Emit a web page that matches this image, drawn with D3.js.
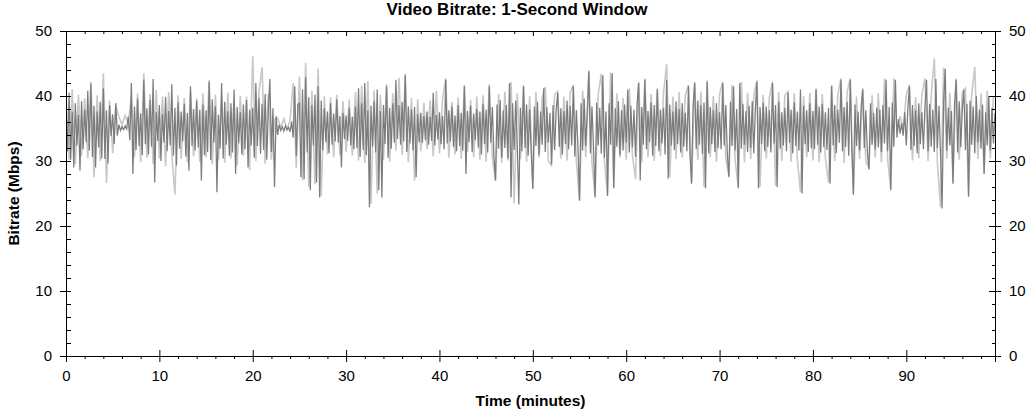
<!DOCTYPE html>
<html>
<head>
<meta charset="utf-8">
<script src="https://cdn.jsdelivr.net/npm/d3@7"></script>
<style>
  body { margin: 0; background: #fff; }
  svg { display: block; font-family: "Liberation Sans", Arial, sans-serif; }
</style>
</head>
<body>
<div id="grafico"></div>
<script>
// muestras de 10 s (serie oscura) y de 20 s (serie clara), en Mbps
const pasoOscuroSeg = 10, pasoClaroSeg = 20;

const bitrateOscuro = [
  38.2,31.5,40.5,30.2,37.6,29.0, 38.9,32.4,37.1,28.5,39.2,31.8, 37.9,32.9,40.8,31.6,41.9,30.6, 38.5,29.0,37.6,32.1,39.1,30.4, 41.2,30.3,37.8,29.6,38.6,33.8,
  37.2,32.6,38.9,33.9,35.6,34.7, 35.3,34.8,35.4,34.9,36.8,33.2, 42.0,28.0,38.4,31.7,39.6,32.3, 37.3,30.9,42.5,32.6,38.1,31.0, 39.4,32.2,42.6,26.7,37.5,33.1,
  38.6,30.0,37.2,32.8,39.9,31.5, 37.7,32.4,41.8,30.8,38.2,29.3, 39.0,31.9,37.6,33.0,38.8,30.7, 37.4,28.5,41.5,32.3,38.0,31.6, 39.3,32.1,37.9,27.0,38.7,30.9,
  37.8,31.4,42.2,30.1,39.5,32.8, 38.4,25.2,37.1,31.9,42.0,30.4, 39.1,32.5,37.7,30.8,38.9,31.3, 41.0,28.0,38.3,32.7,37.5,31.0, 38.7,31.8,39.4,29.0,37.9,32.4,
  38.2,30.5,42.0,32.3,39.7,31.1, 38.8,31.7,40.3,30.2,37.6,42.6, 31.4,38.1,26.0,36.9,34.0,35.6, 34.7,35.3,34.6,35.4,34.8,35.2, 34.5,36.1,33.6,41.5,30.8,38.7,
  38.9,27.5,41.0,27.2,42.9,31.3, 39.8,25.5,38.6,32.4,40.2,26.7, 41.5,24.4,39.3,31.6,38.1,32.9, 37.6,31.2,38.9,32.5,37.3,33.0, 39.5,32.8,36.9,29.0,37.4,33.4,
  37.0,33.1,38.2,32.4,36.8,31.8, 38.4,32.0,41.2,30.6,38.9,31.7, 42.0,30.9,37.8,22.9,38.5,32.2, 39.2,31.3,41.0,25.5,37.7,24.4, 38.6,32.6,41.5,30.5,38.2,31.9,
  38.9,32.8,42.5,33.4,38.6,32.5, 39.1,33.0,43.2,31.4,38.4,32.7, 37.9,31.6,38.3,27.5,37.2,32.9, 37.4,32.8,36.9,33.2,37.6,32.5, 36.8,33.1,40.5,32.4,37.1,33.3,
  37.5,32.6,36.9,31.8,42.5,32.7, 37.8,33.0,38.4,32.2,37.0,31.5, 38.6,32.3,37.4,31.6,41.5,28.0, 37.7,32.9,38.5,31.4,37.3,33.2, 38.0,32.1,37.6,31.0,38.8,32.6,
  37.9,31.3,41.5,32.8,38.3,30.6, 27.0,38.7,31.9,39.4,30.5,37.8, 32.0,38.6,30.4,42.0,24.4,38.9, 31.7,39.3,32.4,23.3,38.2,31.5, 41.5,32.0,38.7,30.8,37.9,31.2,
  25.7,38.4,32.3,39.1,30.9,37.6, 32.5,41.2,31.4,38.3,32.8,37.4, 29.5,38.6,31.7,37.9,40.5,32.2, 38.1,31.0,37.7,32.6,39.3,31.8, 38.5,32.4,41.5,30.7,37.8,32.1,
  23.9,38.9,31.6,39.6,32.3,37.5, 43.8,31.2,38.4,32.0,24.4,39.0, 32.4,38.2,31.1,43.2,30.5,37.6, 24.6,38.9,32.5,43.5,25.8,38.1, 32.2,39.2,30.9,37.8,31.6,38.7,
  32.8,41.0,31.3,38.5,32.1,37.9, 30.6,38.8,42.0,27.0,38.3,32.5, 42.5,31.8,37.7,32.9,39.0,30.8, 38.6,32.3,41.0,31.5,37.9,32.7, 38.2,31.0,42.5,27.3,38.7,32.4,
  37.6,31.7,39.2,32.6,38.0,31.3, 38.9,32.2,37.4,31.5,41.5,30.9, 26.5,38.5,42.0,31.8,39.3,32.5, 38.6,31.1,39.0,25.8,42.2,31.2, 38.3,32.6,37.8,31.4,38.9,32.0,
  37.5,31.8,42.0,32.4,38.6,31.0, 27.5,39.1,32.3,41.5,31.6,38.0, 25.8,42.0,31.9,38.8,32.5,37.7, 31.4,38.5,32.0,39.2,31.2,37.9, 42.2,25.8,38.3,32.6,39.0,31.5,
  38.4,32.2,37.8,31.3,42.0,32.7, 38.6,26.0,39.1,31.9,37.5,32.4, 38.2,31.5,40.5,32.8,37.9,31.2, 39.0,32.3,37.6,31.6,41.0,25.0, 38.5,32.6,37.8,31.4,38.9,32.0,
  37.7,31.8,41.0,32.5,38.4,31.3, 38.8,32.1,37.5,31.7,38.2,26.5, 41.5,32.4,38.6,31.2,37.9,32.8, 42.5,31.5,38.3,32.2,39.1,30.8, 42.5,31.9,24.8,38.7,32.3,37.6,
  31.6,38.4,41.0,32.0,37.8,31.3, 28.7,38.9,32.5,37.4,31.8,38.2, 32.1,37.9,31.4,38.6,32.7,42.5, 31.5,38.3,25.5,39.0,32.2,42.5, 33.6,36.4,34.2,35.8,33.9,37.5,
  32.4,38.1,41.5,31.7,38.6,32.3, 37.8,31.2,38.9,32.6,37.5,31.8, 38.4,42.5,31.5,38.8,32.2,37.9, 31.4,42.6,32.0,38.5,30.9,22.7, 39.1,44.2,31.6,38.2,32.4,37.7,
  26.5,38.6,42.5,31.3,39.2,32.1, 38.0,41.0,31.7,38.8,24.5,39.3, 32.5,38.4,31.2,40.0,32.8,37.9, 31.9,38.7,28.0,37.5,32.4,40.0, 31.6,38.2,32.7,37.4
];

const bitrateClaro = [
  39.8,30.2,41.0, 29.5,40.2,30.8, 39.6,30.4,42.2, 27.5,40.1,30.0, 43.5,26.6,39.3,
  31.2,38.5,36.8, 35.6,37.0,35.8, 39.8,30.6,40.4, 29.8,43.5,30.5, 40.3,29.6,40.9,
  30.4,39.9,29.2, 40.6,31.0,24.8, 40.1,30.3,39.7, 29.8,40.8,30.7, 39.6,29.9,40.4,
  30.6,42.5,29.5, 40.2,30.1,39.8, 29.7,40.5,30.4, 39.4,29.3,40.0, 30.8,39.9,28.6,
  46.1,30.0,40.6, 44.4,29.6,40.3, 30.2,36.4,36.6, 35.2,36.5,34.9, 36.3,42.0,28.9,
  43.0,27.0,45.1, 26.0,40.8,26.4, 44.2,24.6,40.0, 31.0,39.8,30.6, 40.2,30.9,39.2,
  31.4,39.5,30.8, 40.6,30.1,41.6, 29.7,42.3,23.4, 40.9,25.0,40.2, 30.2,41.8,29.9,
  40.4,31.6,42.8, 30.9,43.4,29.8, 39.7,27.0,39.5, 31.5,38.9,31.8, 39.3,30.7,40.8,
  31.2,39.6,42.7, 30.5,39.1,31.0, 39.8,30.3,41.7, 31.4,39.4,30.6, 39.9,30.2,40.1,
  29.9,41.8,30.4, 27.0,40.3,29.7, 40.7,30.1,42.2, 23.5,40.4,30.3, 41.7,29.9,40.0,
  25.9,40.6,30.5, 39.8,41.4,30.0, 29.3,40.2,40.7, 30.4,39.9,30.1, 40.5,41.7,29.8,
  24.0,40.8,30.6, 43.9,29.6,24.6, 40.2,43.4,30.0, 24.8,43.6,26.0, 40.4,30.5,39.7,
  30.2,41.2,30.9, 27.2,42.2,29.8, 42.7,30.6,40.3, 30.0,41.2,30.7, 40.5,44.9,27.5,
  39.9,30.3,40.6, 30.5,40.1,41.7, 26.7,42.2,30.2, 40.7,26.0,42.4, 30.6,40.0,29.9,
  40.3,42.2,30.4, 27.7,41.7,30.1, 26.0,42.2,29.8, 40.5,30.3,40.1, 42.4,26.0,40.2,
  30.4,39.8,42.2, 26.2,40.6,30.0, 40.1,40.7,29.9, 40.4,30.2,25.2, 40.0,30.6,40.5,
  30.1,41.2,29.8, 40.3,30.4,26.7, 41.7,30.0,40.2, 42.7,29.7,40.6, 42.7,25.0,39.9,
  30.3,41.2,30.0, 28.9,40.1,30.5, 40.4,29.8,42.7, 30.2,25.7,42.7, 34.5,36.9,35.0,
  40.2,41.7,30.1, 39.8,30.4,40.3, 42.7,30.0,40.1, 45.8,29.6,22.9, 44.4,30.3,40.5,
  26.7,42.7,30.2, 40.6,41.2,24.7, 40.1,44.5,30.3, 40.4,28.2,40.8, 30.4,40.0
];

const ticksX = [0, 10, 20, 30, 40, 50, 60, 70, 80, 90];
const ticksXMenores = d3.range(0, 100, 2).filter(d => d % 10 !== 0);
const ticksY = [0, 10, 20, 30, 40, 50];
const ticksYMenores = d3.range(0, 51, 2).filter(d => d % 10 !== 0);

const ancho = 1032, alto = 418;
const izq = 66, der = 995, arriba = 31, abajo = 356;

const $svg = d3.select("#grafico")
  .append("svg")
  .attr("width", ancho)
  .attr("height", alto);

const x = d3.scaleLinear().domain([0, 99.5]).range([izq, der]);
const y = d3.scaleLinear().domain([0, 50]).range([abajo, arriba]);

$svg.append("clipPath").attr("id", "recorte")
  .append("rect")
  .attr("x", izq).attr("y", arriba)
  .attr("width", der - izq).attr("height", abajo - arriba);

const linea = paso => d3.line()
  .x((d, i) => x(i * paso / 60))
  .y(d => y(d));

const series = $svg.append("g").attr("clip-path", "url(#recorte)");

series.append("path")
  .datum(bitrateClaro)
  .attr("d", linea(pasoClaroSeg))
  .attr("fill", "none")
  .attr("stroke", "#c8c8c8")
  .attr("stroke-width", 1.6);

series.append("path")
  .datum(bitrateOscuro)
  .attr("d", linea(pasoOscuroSeg))
  .attr("fill", "none")
  .attr("stroke", "#7c7c7c")
  .attr("stroke-width", 1.25);

// ejes: marcas mayores cruzan la línea, menores hacia dentro
const ejeAbajo = $svg.append("g")
  .attr("transform", `translate(0,${abajo})`)
  .call(d3.axisBottom(x).tickValues(ticksX).tickSizeOuter(0).tickSize(6).tickPadding(8));
ejeAbajo.selectAll(".tick line").attr("y1", -6);
$svg.append("g")
  .attr("transform", `translate(0,${abajo})`)
  .call(d3.axisBottom(x).tickValues(ticksXMenores).tickSizeOuter(0).tickSize(3).tickFormat(""))
  .select(".domain").remove();

$svg.append("g")
  .attr("transform", `translate(0,${arriba})`)
  .call(d3.axisBottom(x).tickValues(ticksX).tickSizeOuter(0).tickSize(5).tickFormat(""));
$svg.append("g")
  .attr("transform", `translate(0,${arriba})`)
  .call(d3.axisBottom(x).tickValues(ticksXMenores).tickSizeOuter(0).tickSize(3).tickFormat(""))
  .select(".domain").remove();

const ejeIzq = $svg.append("g")
  .attr("transform", `translate(${izq},0)`)
  .call(d3.axisLeft(y).tickValues(ticksY).tickSizeOuter(0).tickSize(6).tickPadding(8));
ejeIzq.selectAll(".tick line").attr("x2", 5).attr("x1", -6);
$svg.append("g")
  .attr("transform", `translate(${izq},0)`)
  .call(d3.axisRight(y).tickValues(ticksYMenores).tickSizeOuter(0).tickSize(5).tickFormat(""))
  .select(".domain").remove();

const ejeDer = $svg.append("g")
  .attr("transform", `translate(${der},0)`)
  .call(d3.axisRight(y).tickValues(ticksY).tickSizeOuter(0).tickSize(6).tickPadding(8));
ejeDer.selectAll(".tick line").attr("x1", -6);
$svg.append("g")
  .attr("transform", `translate(${der},0)`)
  .call(d3.axisLeft(y).tickValues(ticksYMenores).tickSizeOuter(0).tickSize(3).tickFormat(""))
  .select(".domain").remove();

$svg.selectAll(".tick text")
  .attr("font-size", 15)
  .attr("font-family", "Liberation Sans, Arial, sans-serif")
  .attr("fill", "#000");
$svg.selectAll(".domain, .tick line").attr("stroke", "#000");

$svg.append("text")
  .attr("x", 517).attr("y", 15)
  .attr("text-anchor", "middle")
  .attr("font-size", 17).attr("font-weight", "bold")
  .text("Video Bitrate: 1-Second Window");

$svg.append("text")
  .attr("x", (izq + der) / 2).attr("y", 406)
  .attr("text-anchor", "middle")
  .attr("font-size", 15.5).attr("font-weight", "bold")
  .text("Time (minutes)");

$svg.append("text")
  .attr("transform", `translate(19,${(arriba + abajo) / 2}) rotate(-90)`)
  .attr("text-anchor", "middle")
  .attr("font-size", 15.5).attr("font-weight", "bold")
  .text("Bitrate (Mbps)");
</script>
</body>
</html>
